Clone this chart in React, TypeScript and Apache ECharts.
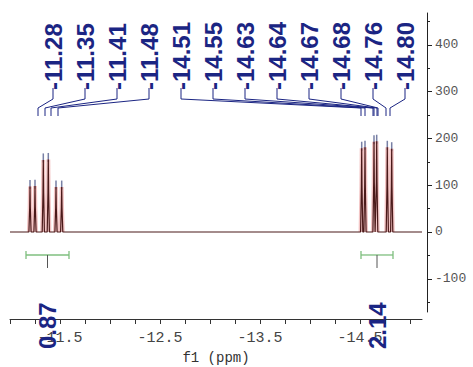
import { useEffect, useRef } from "react";
import * as echarts from "echarts";

// ---- data ----
const peakPpm = [-11.2, -11.25, -11.333, -11.383, -11.46, -11.517, -14.517, -14.55, -14.64, -14.667, -14.773, -14.817];
const peakHeight = [97, 98, 154, 155, 96, 96, 179, 181, 193, 194, 181, 178];
const peakLabels = [-11.28, -11.35, -11.41, -11.48, -14.51, -14.55, -14.63, -14.64, -14.67, -14.68, -14.76, -14.8];
const integralFrom = [-11.16, -14.51];
const integralTo = [-11.59, -14.83];
const integralValues = [0.87, 2.14];
const xTickValues = [-11.0, -11.25, -11.5, -11.75, -12.0, -12.25, -12.5, -12.75, -13.0, -13.25, -13.5, -13.75, -14.0, -14.25, -14.5, -14.75, -15.0];
const xLabelValues = [-11.5, -12.5, -13.5, -14.5];
const yLabelValues = [-100, 0, 100, 200, 300, 400];
const yMinorValues = [-150, -50, 50, 150, 250, 350, 450];
const xMin = -15.12;
const xMax = -11.0;
const yMin = -171;
const yMax = 468;

const NAVY = "#1b2583";

export default function App() {
  const ref = useRef<HTMLDivElement>(null);
  useEffect(() => {
    const chart = echarts.init(ref.current!, null, { renderer: "svg" });

    // spectrum line built from peak list
    const order = peakPpm.map((_, i) => i).sort((a, b) => peakPpm[b] - peakPpm[a]);
    const spectrum: number[][] = [[xMax, 0]];
    const peaksOnly: (number[] | string)[] = [];
    order.forEach((i) => {
      const p = peakPpm[i];
      const h = peakHeight[i];
      const pts = [[p + 0.011, 0], [p + 0.003, h * 0.55], [p, h], [p - 0.003, h * 0.55], [p - 0.011, 0]];
      spectrum.push(...pts);
      peaksOnly.push(...pts, "-");
    });
    spectrum.push([xMin, 0]);

    const axisFont = "Liberation Mono";

    chart.setOption({
      animation: false,
      grid: [
        { left: 10, right: 51, top: 13, bottom: 55 },
        { left: 10, right: 51, top: 300, bottom: 48 },
      ],
      xAxis: [
        { gridIndex: 0, type: "value", min: xMin, max: xMax, inverse: true, show: false },
        {
          gridIndex: 1,
          type: "value",
          min: xMin,
          max: xMax,
          inverse: true,
          axisLine: { show: true, onZero: false, lineStyle: { color: "#333", width: 1 } },
          axisTick: { show: true, length: 5, customValues: xTickValues, lineStyle: { color: "#333" } },
          axisLabel: {
            show: true,
            customValues: xLabelValues,
            margin: 12,
            color: "#444",
            fontFamily: axisFont,
            fontSize: 15,
            formatter: (v: number) => v.toFixed(1),
          },
          splitLine: { show: false },
          name: "f1 (ppm)",
          nameLocation: "middle",
          nameGap: 32,
          nameTextStyle: { color: "#333", fontFamily: axisFont, fontSize: 14 },
        },
      ],
      yAxis: [
        {
          gridIndex: 0,
          type: "value",
          position: "right",
          offset: 5,
          min: yMin,
          max: yMax,
          axisLine: { show: true, lineStyle: { color: "#222", width: 1 } },
          axisTick: { show: true, length: 5, customValues: yLabelValues, lineStyle: { color: "#222" } },
          axisLabel: {
            show: true,
            customValues: yLabelValues,
            margin: 8,
            color: "#555",
            fontFamily: axisFont,
            fontSize: 13,
          },
          splitLine: { show: false },
        },
        {
          gridIndex: 0,
          type: "value",
          position: "right",
          offset: 5,
          min: yMin,
          max: yMax,
          axisLine: { show: false },
          axisTick: { show: true, length: 3, customValues: yMinorValues, lineStyle: { color: "#222" } },
          axisLabel: { show: false },
          splitLine: { show: false },
        },
        { gridIndex: 1, type: "value", show: false },
      ],
      series: [
        {
          type: "line",
          xAxisIndex: 0,
          yAxisIndex: 0,
          data: peaksOnly,
          showSymbol: false,
          connectNulls: false,
          lineStyle: { color: "rgba(225,110,110,0.4)", width: 4 },
          silent: true,
        },
        {
          type: "line",
          xAxisIndex: 0,
          yAxisIndex: 0,
          data: spectrum,
          showSymbol: false,
          lineStyle: { color: "#4a1a1a", width: 1.2 },
          silent: true,
        },
        {
          type: "scatter",
          xAxisIndex: 0,
          yAxisIndex: 0,
          data: peakPpm.map((p, i) => [p, peakHeight[i]]),
          symbol: "rect",
          symbolSize: [1.5, 9],
          symbolOffset: [0, -2],
          itemStyle: { color: "#56608e" },
          silent: true,
        },
      ],
    });

    const px = (v: number, y = 0) => chart.convertToPixel({ gridIndex: 0 }, [v, y]) as number[];
    const base = px(xMax, 0)[1];
    const graphics: any[] = [];

    // peak labels + connectors
    peakLabels.forEach((v, i) => {
      const lx = 53 + 32 * i;
      const tx = px(v)[0];
      graphics.push({
        type: "text",
        x: lx,
        y: 90,
        rotation: Math.PI / 2,
        z: 100,
        style: {
          text: v.toFixed(2),
          fill: NAVY,
          font: "bold 24px 'Liberation Sans', Arial, sans-serif",
          align: "left",
          verticalAlign: "middle",
        },
      });
      graphics.push({
        type: "polyline",
        z: 100,
        shape: { points: [[lx, 88], [lx, 99], [tx, 108], [tx, 116]] },
        style: { stroke: NAVY, lineWidth: 1, fill: "none" },
      });
    });

    // integrals
    integralValues.forEach((val, i) => {
      const x1 = px(integralFrom[i])[0];
      const x2 = px(integralTo[i])[0];
      const xc = (x1 + x2) / 2;
      const yb = base + 23;
      graphics.push(
        { type: "line", z: 100, shape: { x1, y1: yb, x2, y2: yb }, style: { stroke: "#7fbf7f", lineWidth: 1.3 } },
        { type: "line", z: 100, shape: { x1, y1: yb - 4, x2: x1, y2: yb + 4 }, style: { stroke: "#7fbf7f", lineWidth: 1.3 } },
        { type: "line", z: 100, shape: { x1: x2, y1: yb - 4, x2, y2: yb + 4 }, style: { stroke: "#7fbf7f", lineWidth: 1.3 } },
        { type: "line", z: 100, shape: { x1: xc, y1: yb, x2: xc, y2: yb + 13 }, style: { stroke: "#555", lineWidth: 1 } },
        {
          type: "text",
          x: xc,
          y: 349,
          rotation: Math.PI / 2,
          z: 101,
          style: {
            text: val.toFixed(2),
            fill: NAVY,
            font: "bold 24px 'Liberation Sans', Arial, sans-serif",
            align: "left",
            verticalAlign: "middle",
          },
        }
      );
    });

    chart.setOption({ graphic: { elements: graphics } });

    return () => chart.dispose();
  }, []);
  return <div ref={ref} style={{ position: "fixed", left: 0, top: 0, width: 473, height: 367, background: "#fff" }} />;
}
